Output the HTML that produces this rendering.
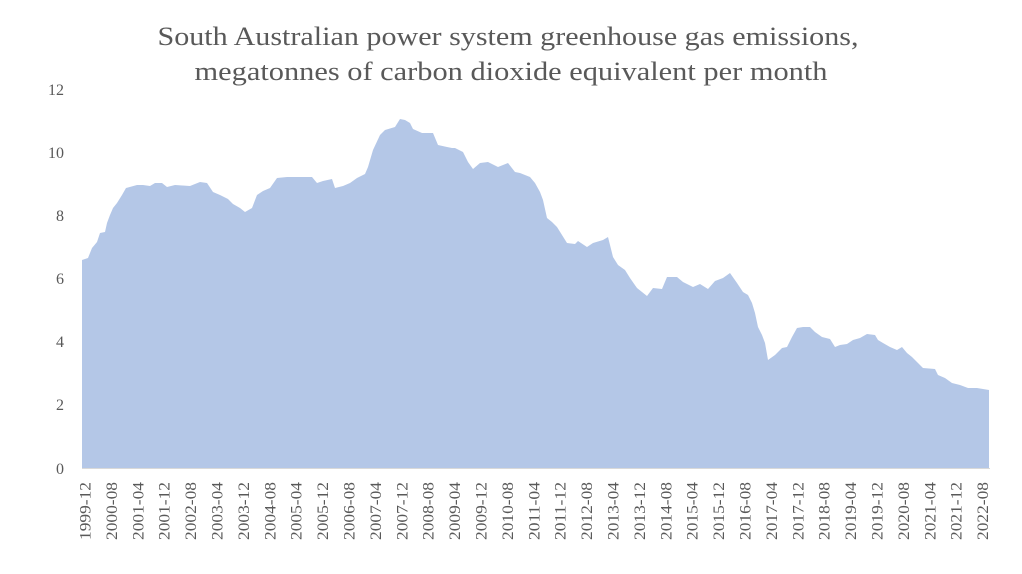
<!DOCTYPE html>
<html><head><meta charset="utf-8"><style>
html,body{margin:0;padding:0;background:#fff;}
svg{display:block;}
text{font-family:"Liberation Serif",serif;fill:#595959;}
</style></head><body>
<svg width="1022" height="574" viewBox="0 0 1022 574" xmlns="http://www.w3.org/2000/svg">
<text x="508" y="45" font-size="26" text-anchor="middle" textLength="701" lengthAdjust="spacingAndGlyphs">South Australian power system greenhouse gas emissions,</text>
<text x="511" y="80" font-size="26" text-anchor="middle" textLength="633" lengthAdjust="spacingAndGlyphs">megatonnes of carbon dioxide equivalent per month</text>
<g font-size="16" text-anchor="end">
<text x="64" y="95">12</text>
<text x="64" y="158">10</text>
<text x="64" y="221">8</text>
<text x="64" y="284">6</text>
<text x="64" y="347">4</text>
<text x="64" y="410">2</text>
<text x="64" y="474">0</text>
</g>
<polygon fill="#b4c7e7" points="82,468 82,260 88,258 92,248 97,242 100,233 105,232 107,223 110,215 113,208 117,203 122,195 126,188 137,185 143,185 150,186 155,183 162,183 167,187 175,185 190,186 200,182 207,183 213,192 220,195 228,199 233,204 240,208 245,212 252,208 257,195 263,191 270,188 277,178 287,177 293,177 312,177 317,183 323,181 332,179 335,188 343,186 350,183 357,178 365,174 368,167 373,150 380,135 385,130 395,127 400,119 405,120 410,123 413,129 422,133 433,133 438,145 447,147 452,148 455,148 463,152 468,162 473,169 480,163 488,162 498,167 508,163 515,172 520,173 530,177 535,183 540,192 543,200 547,218 552,222 557,227 562,235 567,243 575,244 578,241 587,247 593,243 603,240 608,237 613,257 618,265 625,270 630,278 637,288 647,296 653,288 662,289 667,277 677,277 683,282 693,287 700,284 708,289 715,281 723,278 730,273 737,283 743,292 748,295 752,303 755,313 758,327 762,335 765,343 768,360 775,355 782,348 787,347 792,337 797,328 803,327 810,327 815,332 822,337 830,339 835,347 840,345 847,344 853,340 860,338 867,334 875,335 878,340 883,343 890,347 897,350 902,347 907,353 912,357 918,363 923,368 935,369 938,375 945,378 952,383 960,385 968,388 977,388 989,390 989,468"/>
<line x1="82" y1="468.5" x2="990" y2="468.5" stroke="#d9d9d9" stroke-width="1"/>
<g id="xl"></g>
</svg>
<script>
var labs=[];var y=1999,m=12;
for(var i=0;i<35;i++){labs.push(y+"-"+(m<10?"0"+m:m));m+=8;while(m>12){m-=12;y++;}}
var g=document.getElementById("xl"),ns="http://www.w3.org/2000/svg";
labs.forEach(function(l,i){var x=85+i*26.4;var t=document.createElementNS(ns,"text");
t.setAttribute("transform","translate("+(x+5.5)+",482) rotate(-90)");t.setAttribute("x","0");t.setAttribute("y","0");
t.setAttribute("font-size","15.5");t.setAttribute("text-anchor","end");
t.setAttribute("textLength","58");t.setAttribute("lengthAdjust","spacingAndGlyphs");
t.textContent=l;g.appendChild(t);});
</script>
</body></html>
